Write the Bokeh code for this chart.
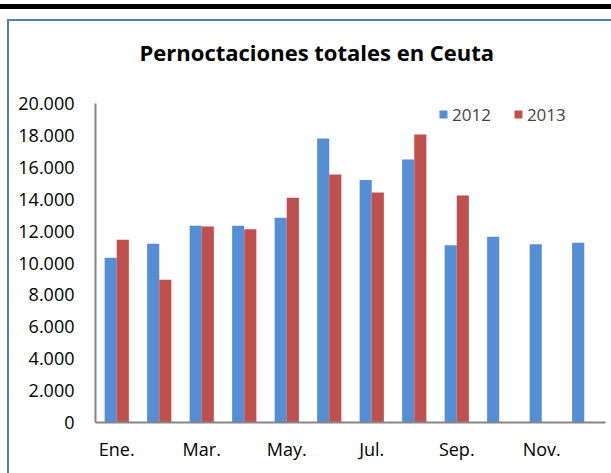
from bokeh.plotting import figure
from bokeh.models import (Range1d, FixedTicker, Legend, LegendItem,
                          ColumnDataSource, InlineStyleSheet)
from bokeh.transform import dodge
from bokeh.embed import file_html
from bokeh.resources import INLINE

# ---- data ----
months = ["Ene.", "Feb.", "Mar.", "Abr.", "May.", "Jun.",
          "Jul.", "Ago.", "Sep.", "Oct.", "Nov.", "Dic."]
month_num = [1, 2, 3, 4, 5, 6, 7, 8, 9, 10, 11, 12]
values_2012 = [10330, 11200, 12330, 12330, 12830, 17810,
               15210, 16490, 11120, 11640, 11180, 11270]
month_num_2013 = [1, 2, 3, 4, 5, 6, 7, 8, 9]
values_2013 = [11450, 8950, 12290, 12120, 14090, 15550,
               14420, 18060, 14230]
x_ticks = [1, 3, 5, 7, 9, 11]
x_tick_labels = ["Ene.", "Mar.", "May.", "Jul.", "Sep.", "Nov."]
y_ticks = [0, 2000, 4000, 6000, 8000, 10000, 12000, 14000, 16000, 18000, 20000]
y_tick_labels = ["0", "2.000", "4.000", "6.000", "8.000", "10.000", "12.000",
                 "14.000", "16.000", "18.000", "20.000"]
series_names = ["2012", "2013"]
title_text = "Pernoctaciones totales en  Ceuta"

BLUE = "#558ED5"
RED = "#C0504D"
FONT = "Open Sans"

src12 = ColumnDataSource(dict(x=month_num, val=values_2012, month=months))
src13 = ColumnDataSource(dict(x=month_num_2013, val=values_2013,
                              month=months[:len(values_2013)]))

p = figure(width=611, height=473, output_backend="svg", toolbar_location=None,
           x_range=Range1d(0.5, 12.5),
           y_range=Range1d(0, 20000),
           min_border_left=95, min_border_right=6,
           min_border_top=103, min_border_bottom=51)
p.outline_line_color = None
p.xgrid.visible = False
p.ygrid.visible = False

p.title.text = title_text
p.title.align = "left"
p.title.offset = 44
p.title.vertical_align = "top"
p.title.standoff = 69
p.title.text_font = FONT
p.title.text_font_style = "bold"
p.title.text_font_size = "22px"
p.title.text_color = "#000000"

r12 = p.vbar(x=dodge("x", -0.1425), top="val", width=0.285,
             source=src12, fill_color=BLUE, line_color=None)
r13 = p.vbar(x=dodge("x", 0.1425), top="val", width=0.285,
             source=src13, fill_color=RED, line_color=None)

for ax in (p.xaxis[0], p.yaxis[0]):
    ax.axis_line_color = "#868686"
    ax.axis_line_width = 2
    ax.major_tick_out = 0
    ax.major_tick_in = 0
    ax.minor_tick_out = 0
    ax.minor_tick_in = 0
    ax.major_label_text_font = FONT
    ax.major_label_text_font_size = "18px"
    ax.major_label_text_color = "#000000"

p.yaxis.ticker = FixedTicker(ticks=y_ticks)
p.yaxis.major_label_overrides = dict(zip(y_ticks, y_tick_labels))
p.yaxis.major_label_standoff = 21
p.xaxis.ticker = FixedTicker(ticks=x_ticks)
p.xaxis.major_label_overrides = dict(zip(x_ticks, x_tick_labels))
p.xaxis.major_label_standoff = 14

legend = Legend(items=[LegendItem(label=series_names[0], renderers=[r12]),
                       LegendItem(label=series_names[1], renderers=[r13])],
                orientation="horizontal", location=(343, 296),
                border_line_color=None, background_fill_alpha=0,
                padding=0, margin=0, spacing=22, label_standoff=4,
                glyph_width=10, glyph_height=10, label_height=24,
                label_text_font=FONT, label_text_font_size="17px")
p.add_layout(legend)

# chart frame decoration: thick black rule at top and the blue chart-area border
p.stylesheets = [InlineStyleSheet(css="""
:host { position: relative; }
:host::before {
  content: ""; position: absolute; z-index: 10; pointer-events: none;
  left: 0; right: 0; top: 4px; height: 5px; background: #000000;
}
:host::after {
  content: ""; position: absolute; z-index: 10; pointer-events: none;
  left: 7px; top: 19px; right: 0; bottom: 0;
  border-left: 2px solid #4F81BD; border-top: 2px solid #4F81BD;
}
""")]

open("out.html", "w").write(file_html(p, INLINE))
